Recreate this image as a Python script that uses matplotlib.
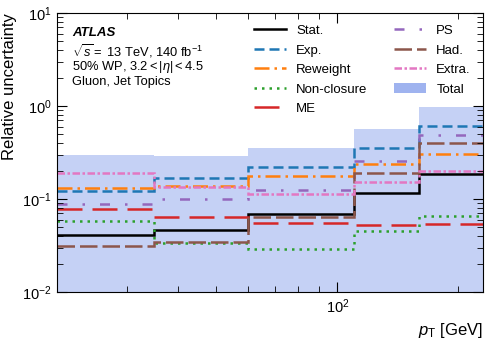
import numpy as np
import matplotlib
matplotlib.use('Agg')
import matplotlib.pyplot as plt
from matplotlib.patches import Patch
from matplotlib.lines import Line2D

plt.rcParams['font.family'] = ['Liberation Sans', 'DejaVu Sans']
plt.rcParams['mathtext.fontset'] = 'custom'
plt.rcParams['mathtext.rm'] = 'Liberation Sans'
plt.rcParams['mathtext.it'] = 'Liberation Sans:italic'
plt.rcParams['mathtext.bf'] = 'Liberation Sans:bold'

# bins en pT (GeV)
edges = [20, 35, 60, 110, 160, 230]

# incertitudes relatives par bin
stat = [0.041, 0.047, 0.069, 0.117, 0.184]
exp_ = [0.121, 0.168, 0.223, 0.356, 0.615]
reweight = [0.132, 0.137, 0.178, 0.240, 0.305]
nonclosure = [0.0575, 0.034, 0.029, 0.0453, 0.065]
me = [0.0787, 0.064, 0.0552, 0.053, 0.054]
ps = [0.0883, 0.100, 0.125, 0.254, 0.488]
had = [0.0312, 0.0342, 0.0635, 0.192, 0.397]
extra = [0.192, 0.136, 0.112, 0.152, 0.198]
total = [0.297, 0.292, 0.351, 0.570, 0.968]

fig = plt.figure(figsize=(4.88, 3.42), dpi=100)
ax = fig.add_axes([0.116, 0.146, 0.873, 0.816])

# Total en fond
ax.fill_between(edges, list(total) + [total[-1]], 1e-3, step='post',
                color='royalblue', alpha=0.3, linewidth=0)

lw = 1.8
series = [
    ('Stat.', stat, 'black', '-'),
    ('Exp.', exp_, 'tab:blue', (0, (4, 2))),
    ('Reweight', reweight, 'tab:orange', (0, (6, 2, 1, 2))),
    ('Non-closure', nonclosure, 'tab:green', (0, (1, 2))),
    ('ME', me, 'tab:red', (0, (10, 4))),
    ('PS', ps, 'tab:purple', (0, (4, 6, 1, 6))),
    ('Had.', had, 'tab:brown', (0, (7, 2))),
    ('Extra.', extra, 'tab:pink', (0, (3, 1, 1, 1))),
]

handles = []
for name, vals, col, ls in series:
    ax.stairs(vals, edges, baseline=None, color=col, linestyle=ls, linewidth=lw)
    handles.append(Line2D([], [], color=col, linestyle=ls, linewidth=lw, label=name))
handles.append(Patch(color='royalblue', alpha=0.5, linewidth=0, label='Total'))

ax.set_xscale('log')
ax.set_yscale('log')
ax.set_xlim(20, 230)
ax.set_ylim(1e-2, 10)

ax.tick_params(which='both', direction='in', top=True, right=True, labelsize=10.5)
ax.tick_params(which='major', length=7)
ax.tick_params(which='minor', length=4)
ax.xaxis.set_minor_formatter(matplotlib.ticker.NullFormatter())

ax.set_xlabel(r'$p_{\mathrm{T}}$ [GeV]', fontsize=12, loc='right')
ax.set_ylabel('Relative uncertainty', fontsize=12, loc='top')

ax.text(0.036, 0.95, 'ATLAS', transform=ax.transAxes, fontsize=9.5,
        fontweight='bold', fontstyle='italic', va='top')
ax.text(0.036, 0.895, r'$\sqrt{s} =$ 13 TeV, 140 fb$^{-1}$', transform=ax.transAxes,
        fontsize=9.3, va='top')
ax.text(0.036, 0.835, r'50% WP, 3.2$<|\eta|<$4.5', transform=ax.transAxes,
        fontsize=9.3, va='top')
ax.text(0.036, 0.775, 'Gluon, Jet Topics', transform=ax.transAxes,
        fontsize=9.3, va='top')

ax.legend(handles=handles, ncol=2, frameon=False, fontsize=9.5,
          loc='upper right', bbox_to_anchor=(1.0, 1.0),
          handlelength=2.4, columnspacing=2.0, labelspacing=0.55)

plt.savefig('out.png', dpi=100)
